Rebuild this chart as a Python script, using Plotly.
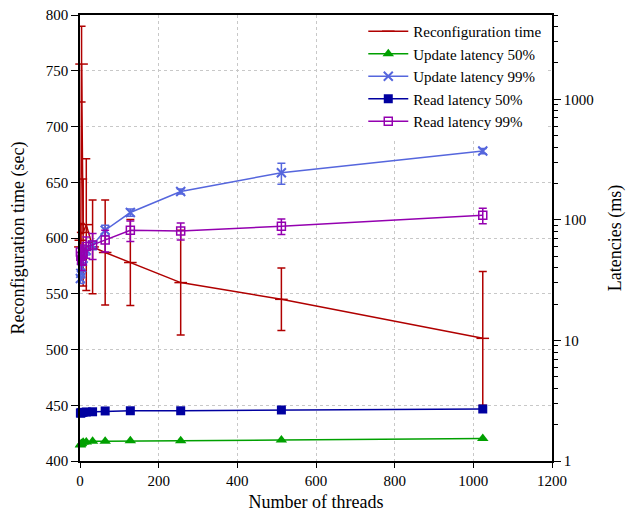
import plotly.graph_objects as go
import math

threads = [1, 2, 4, 8, 16, 32, 64, 128, 256, 512, 1024]

reconf_mean = [592, 598, 756, 605, 612, 592, 587, 578, 560, 545, 510]
reconf_err = [12, 15, 34, 48, 59, 42, 47, 38.5, 47, 28, 60]

upd50 = [1.36, 1.38, 1.40, 1.43, 1.44, 1.46, 1.46, 1.47, 1.47, 1.49, 1.54]

upd99 = [32.6, 36, 40, 48, 56, 61.6, 82, 115, 172, 246, 372]
upd99_err = [3, 3, 4, 4, 5, 5, 8, 8, 8, 49, 18]

read50 = [2.50, 2.50, 2.52, 2.53, 2.55, 2.56, 2.60, 2.61, 2.61, 2.65, 2.70]

read99 = [54, 50, 46, 52, 60, 62, 68, 82, 81, 88.5, 109]
read99_err = [6, 8, 8, 10, 12, 15, 14, 16, 13, 13, 16]

C_RED = "#B00000"
C_GREEN = "#00A000"
C_LBLUE = "#5566DD"
C_DBLUE = "#0000A0"
C_PURPLE = "#9400B0"

FONT = "Liberation Serif, Times New Roman, DejaVu Serif, serif"

fig = go.Figure()

fig.add_trace(go.Scatter(
    x=threads, y=reconf_mean, name="Reconfiguration time", mode="lines+markers",
    line=dict(color=C_RED, width=1.5),
    marker=dict(symbol="line-ew", size=9, line=dict(color=C_RED, width=1.5)),
    error_y=dict(type="data", array=reconf_err, color=C_RED, thickness=1.5, width=4),
    yaxis="y", cliponaxis=False))

fig.add_trace(go.Scatter(
    x=threads, y=upd50, name="Update latency 50%", mode="lines+markers",
    line=dict(color=C_GREEN, width=1.5),
    marker=dict(symbol="triangle-up", size=10, color=C_GREEN),
    yaxis="y2", cliponaxis=False))

fig.add_trace(go.Scatter(
    x=threads, y=upd99, name="Update latency 99%", mode="lines+markers",
    line=dict(color=C_LBLUE, width=1.5),
    marker=dict(symbol="x-thin", size=9, line=dict(color=C_LBLUE, width=2)),
    error_y=dict(type="data", array=upd99_err, color=C_LBLUE, thickness=1.5, width=4),
    yaxis="y2", cliponaxis=False))

fig.add_trace(go.Scatter(
    x=threads, y=read50, name="Read latency 50%", mode="lines+markers",
    line=dict(color=C_DBLUE, width=1.5),
    marker=dict(symbol="square", size=9, color=C_DBLUE),
    yaxis="y2", cliponaxis=False))

fig.add_trace(go.Scatter(
    x=threads, y=read99, name="Read latency 99%", mode="lines+markers",
    line=dict(color=C_PURPLE, width=1.5),
    marker=dict(symbol="square-open", size=8, color=C_PURPLE, line=dict(width=1.5)),
    error_y=dict(type="data", array=read99_err, color=C_PURPLE, thickness=1.5, width=4),
    yaxis="y2", cliponaxis=False))

minor_vals = []
for d in [1, 10, 100, 1000]:
    for m in range(2, 10):
        v = m * d
        if v <= 5000:
            minor_vals.append(v)

fig.update_layout(
    width=626, height=513,
    margin=dict(l=80, r=74, t=15, b=52),
    paper_bgcolor="white", plot_bgcolor="white",
    font=dict(family=FONT, size=15, color="black"),
    showlegend=True,
    legend=dict(x=0.99, y=1.0, xanchor="right", yanchor="top",
                bgcolor="white", font=dict(family=FONT, size=15),
                tracegroupgap=0, itemwidth=40),
    xaxis=dict(range=[0, 1200], dtick=200, tick0=0, automargin=False,
               title=dict(text="Number of threads", standoff=8),
               showline=True, linecolor="black", linewidth=1.5, mirror=True,
               ticks="outside", ticklen=5, tickcolor="black",
               showgrid=True, gridcolor="#c8c8c8", griddash="dot", gridwidth=1,
               zeroline=False),
    yaxis=dict(range=[400, 800], dtick=50, tick0=400, automargin=False,
               title=dict(text="Reconfiguration time (sec)", standoff=16),
               showline=True, linecolor="black", linewidth=1.5,
               ticks="outside", ticklen=7, tickcolor="black",
               showgrid=True, gridcolor="#c8c8c8", griddash="dot", gridwidth=1,
               zeroline=False),
    yaxis2=dict(type="log", range=[0, math.log10(5000)], automargin=False,
                overlaying="y", side="right",
                title=dict(text="Latencies (ms)", standoff=22),
                tickvals=[1, 10, 100, 1000], ticktext=["1", "10", "100", "1000"],
                showline=True, linecolor="black", linewidth=1.5,
                ticks="outside", ticklen=7, tickcolor="black",
                minor=dict(tickvals=minor_vals, ticks="outside", ticklen=4,
                           tickcolor="black", showgrid=False),
                showgrid=False, zeroline=False),
)

fig.write_html("out.html")
